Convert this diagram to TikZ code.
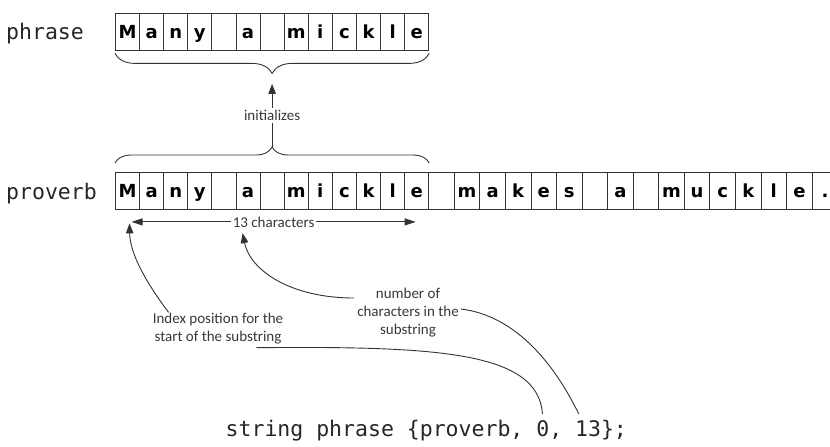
\documentclass[tikz,border=0pt]{standalone}
\usepackage{fontspec}
\setmainfont{Carlito}
\setmonofont{DejaVu Sans Mono}
\newfontfamily\cellfont{DejaVu Sans}
\usetikzlibrary{arrows.meta,decorations.pathreplacing,calc}
\definecolor{ink}{gray}{0.2}
\definecolor{notecol}{gray}{0.22}
\begin{document}
\begin{tikzpicture}[x=1pt,y=-1pt,
  cell/.style={draw=ink, line width=0.9pt, minimum width=#1, minimum height=37pt,
    inner sep=0pt, anchor=north west, text height=13.1pt, text depth=0pt,
    font=\cellfont\bfseries\fontsize{18}{18}\selectfont},
  varname/.style={anchor=base west, inner sep=0pt, text=black!85,
    font=\ttfamily\fontsize{21.5}{24}\selectfont},
  note/.style={text=notecol, inner sep=0pt, align=center,
    font=\fontsize{15}{18}\selectfont},
  conn/.style={draw=ink, line width=0.9pt},
  tip/.style={-{Triangle[length=10pt,width=7.5pt]}},
  bracestyle/.style={draw=ink, line width=0.9pt, decorate}]
\useasboundingbox (0,0) rectangle (830,447);
\clip (0,0) rectangle (830,447);

% variable names
\node[varname] (phraselbl) at (6,39.5) {phrase};
\node[varname] (proverblbl) at (6,199.5) {proverb};

% the phrase string
\foreach \ch [count=\i] in {M,a,n,y,{},a,{},m,i,c,k,l,e}
  \node[cell=24.1pt] (p\i) at ({115+24.1*(\i-1)},12.5) {\ch};

% the proverb string
\foreach \ch [count=\i] in {M,a,n,y,{},a,{},m,i,c,k,l,e}
  \node[cell=24.1pt] (v\i) at ({115+24.1*(\i-1)},171.5) {\ch};
\foreach \ch [count=\i from 14] in {{},m,a,k,e,s,{},a,{},m,u,c,k,l,e,{.}}
  \node[cell=25.56pt] (v\i) at ({428.3+25.56*(\i-14)},171.5) {\ch};

% braces over the first 13 characters
\draw[bracestyle, decoration={brace, amplitude=20pt}]
  ($(p13.south east)+(0,3)$) -- ($(p1.south west)+(0,3)$);
\draw[bracestyle, decoration={brace, amplitude=16pt}]
  ($(v1.north west)+(0,-8.5)$) -- ($(v13.north east)+(0,-8.5)$);
\coordinate (tipA) at ($($(p1.south west)!0.5!(p13.south east)$)+(0,23)$);
\coordinate (tipB) at ($($(v1.north west)!0.5!(v13.north east)$)+(0,-24.5)$);

% initializes
\draw[conn, tip] (tipB) -- ($(tipA)+(0,10.5)$)
  node[midway, note, fill=white, inner sep=2pt] (init) {initializes};

% length of the substring
\draw[conn, {Triangle[length=11pt,width=7pt]}-{Triangle[length=11pt,width=7pt]}]
  ($(v1.south)+(4,12.5)$) -- ($(v13.south)+(-1,12.5)$)
  node[midway, note, fill=white, inner sep=1.5pt] (chars) {13 characters};

% notes
\node[note] (idx) at (218,329) {Index position for the\\start of the substring};
\node[note] (num) at (408,313) {number of\\characters in the\\substring};

% the statement
\node[varname] (code) at (225.5,436) {string phrase \{proverb, 0, 13\};};
\coordinate (zero) at ($(code.base west)+(24.5*12.94,-22)$);
\coordinate (count) at ($(code.base west)+(27.3*12.94,-22)$);

% annotation curves
\draw[conn, tip] ($(idx.north west)+(16,-1)$)
  .. controls (148,285) and (130,255) .. ($(v1.south)+(2,14)$);
\draw[conn, tip] ($(num.west)+(-3,-15)$)
  .. controls (290,298) and (250,270) .. ($(chars.south)+(-31,4)$);
\draw[conn] ($(num.east)+(2,-4)$)
  .. controls (510,315) and (550,355) .. (count);
\draw[conn] ($(idx.south east)+(-27,3)$)
  .. controls (440,346) and (538,352) .. (zero);
\end{tikzpicture}
\end{document}
